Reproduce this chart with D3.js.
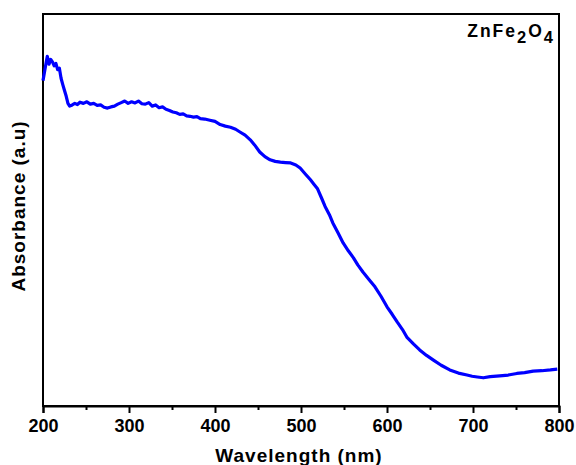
<!DOCTYPE html>
<html>
<head>
<meta charset="utf-8">
<script src="https://cdn.jsdelivr.net/npm/d3@7"></script>
<style>
	body { margin: 0; background: #fff; }
	text { font-family: "Liberation Sans", Arial, sans-serif; font-weight: bold; fill: #000; }
</style>
</head>
<body>
<div id="chart"></div>
<script>
// UV-vis spectrum (absorbance in arbitrary units)
var wavelength = [200, 202, 204, 205, 207, 209, 211, 213, 215, 217, 219, 221, 223, 225, 227, 229, 231, 234, 237, 240, 243, 247, 251, 255, 259, 263, 267, 271, 275, 279, 283, 287, 291, 295, 299, 303, 307, 311, 315, 319, 323, 327, 331, 335, 339, 343, 347, 351, 355, 359, 363, 367, 371, 375, 379, 383, 388, 394, 400, 406, 412, 418, 424, 429, 435, 441, 446, 452, 458, 464, 470, 476, 482, 488, 494, 499, 505, 511, 515, 519, 524, 528, 533, 537, 543, 549, 555, 561, 566, 572, 579, 586, 593, 600, 606, 612, 618, 623, 631, 638, 646, 654, 663, 673, 683, 693, 699, 705, 712, 720, 731, 741, 751, 760, 770, 780, 790, 798];
var absorbance = [0.830, 0.855, 0.880, 0.892, 0.872, 0.884, 0.878, 0.868, 0.874, 0.858, 0.862, 0.836, 0.820, 0.805, 0.790, 0.772, 0.765, 0.768, 0.772, 0.769, 0.775, 0.772, 0.776, 0.770, 0.772, 0.767, 0.768, 0.762, 0.760, 0.763, 0.765, 0.770, 0.774, 0.778, 0.772, 0.776, 0.773, 0.778, 0.771, 0.770, 0.774, 0.765, 0.768, 0.761, 0.763, 0.757, 0.754, 0.750, 0.748, 0.744, 0.745, 0.740, 0.739, 0.737, 0.738, 0.733, 0.732, 0.729, 0.726, 0.718, 0.714, 0.711, 0.706, 0.699, 0.691, 0.679, 0.666, 0.648, 0.636, 0.628, 0.624, 0.622, 0.621, 0.620, 0.615, 0.607, 0.592, 0.577, 0.566, 0.555, 0.530, 0.509, 0.488, 0.467, 0.442, 0.416, 0.396, 0.378, 0.360, 0.342, 0.323, 0.304, 0.280, 0.253, 0.234, 0.214, 0.195, 0.176, 0.158, 0.143, 0.129, 0.117, 0.104, 0.092, 0.084, 0.079, 0.076, 0.074, 0.072, 0.075, 0.077, 0.079, 0.083, 0.085, 0.089, 0.090, 0.092, 0.094];

var xTicks = [200, 300, 400, 500, 600, 700, 800];
var xMinorTicks = [250, 350, 450, 550, 650, 750];

var width = 576, height = 465;
var margin = {left: 43, right: 17, top: 14, bottom: 59};

var svg = d3.select("#chart")
	.append("svg")
	.attr("width", width)
	.attr("height", height);

var x = d3.scaleLinear().domain([200, 800]).range([margin.left, width - margin.right]);
var y = d3.scaleLinear().domain([0, 1]).range([height - margin.bottom, margin.top]);

// frame
svg.append("rect")
	.attr("x", x(200))
	.attr("y", y(1))
	.attr("width", x(800) - x(200))
	.attr("height", y(0) - y(1))
	.attr("fill", "none")
	.attr("stroke", "#000")
	.attr("stroke-width", 2);

// x axis
var xAxis = svg.append("g")
	.attr("transform", "translate(0," + y(0) + ")")
	.call(d3.axisBottom(x).tickValues(xTicks).tickSize(7).tickPadding(6).tickFormat(d3.format("d")));
xAxis.select(".domain").attr("stroke-width", 2);
xAxis.selectAll(".tick line").attr("stroke-width", 2);
xAxis.selectAll("text")
	.style("font-size", "18px")
	.style("font-family", "Liberation Sans, Arial, sans-serif")
	.style("font-weight", "bold");

var xMinor = svg.append("g")
	.attr("transform", "translate(0," + y(0) + ")")
	.call(d3.axisBottom(x).tickValues(xMinorTicks).tickSize(4).tickFormat(""));
xMinor.select(".domain").remove();
xMinor.selectAll(".tick line").attr("stroke-width", 2);

// spectrum
var line = d3.line()
	.x(function (d, i) { return x(wavelength[i]); })
	.y(function (d) { return y(d); });

svg.append("path")
	.datum(absorbance)
	.attr("d", line)
	.attr("fill", "none")
	.attr("stroke", "#0000ff")
	.attr("stroke-width", 3.2)
	.attr("stroke-linejoin", "round");

// labels
svg.append("text")
	.attr("x", 299)
	.attr("y", 462)
	.attr("text-anchor", "middle")
	.style("font-size", "19px")
	.style("letter-spacing", "1px")
	.text("Wavelength (nm)");

svg.append("text")
	.attr("transform", "translate(25,206) rotate(-90)")
	.attr("text-anchor", "middle")
	.style("font-size", "19px")
	.style("letter-spacing", "1px")
	.text("Absorbance (a.u)");

var title = svg.append("text")
	.attr("x", 555)
	.attr("y", 37)
	.attr("text-anchor", "end")
	.style("font-size", "17.5px")
	.style("letter-spacing", "2px");
title.append("tspan").text("ZnFe");
title.append("tspan").attr("dy", 6).style("font-size", "16.5px").text("2");
title.append("tspan").attr("dy", -6).text("O");
title.append("tspan").attr("dy", 6).style("font-size", "16.5px").text("4");
</script>
</body>
</html>
